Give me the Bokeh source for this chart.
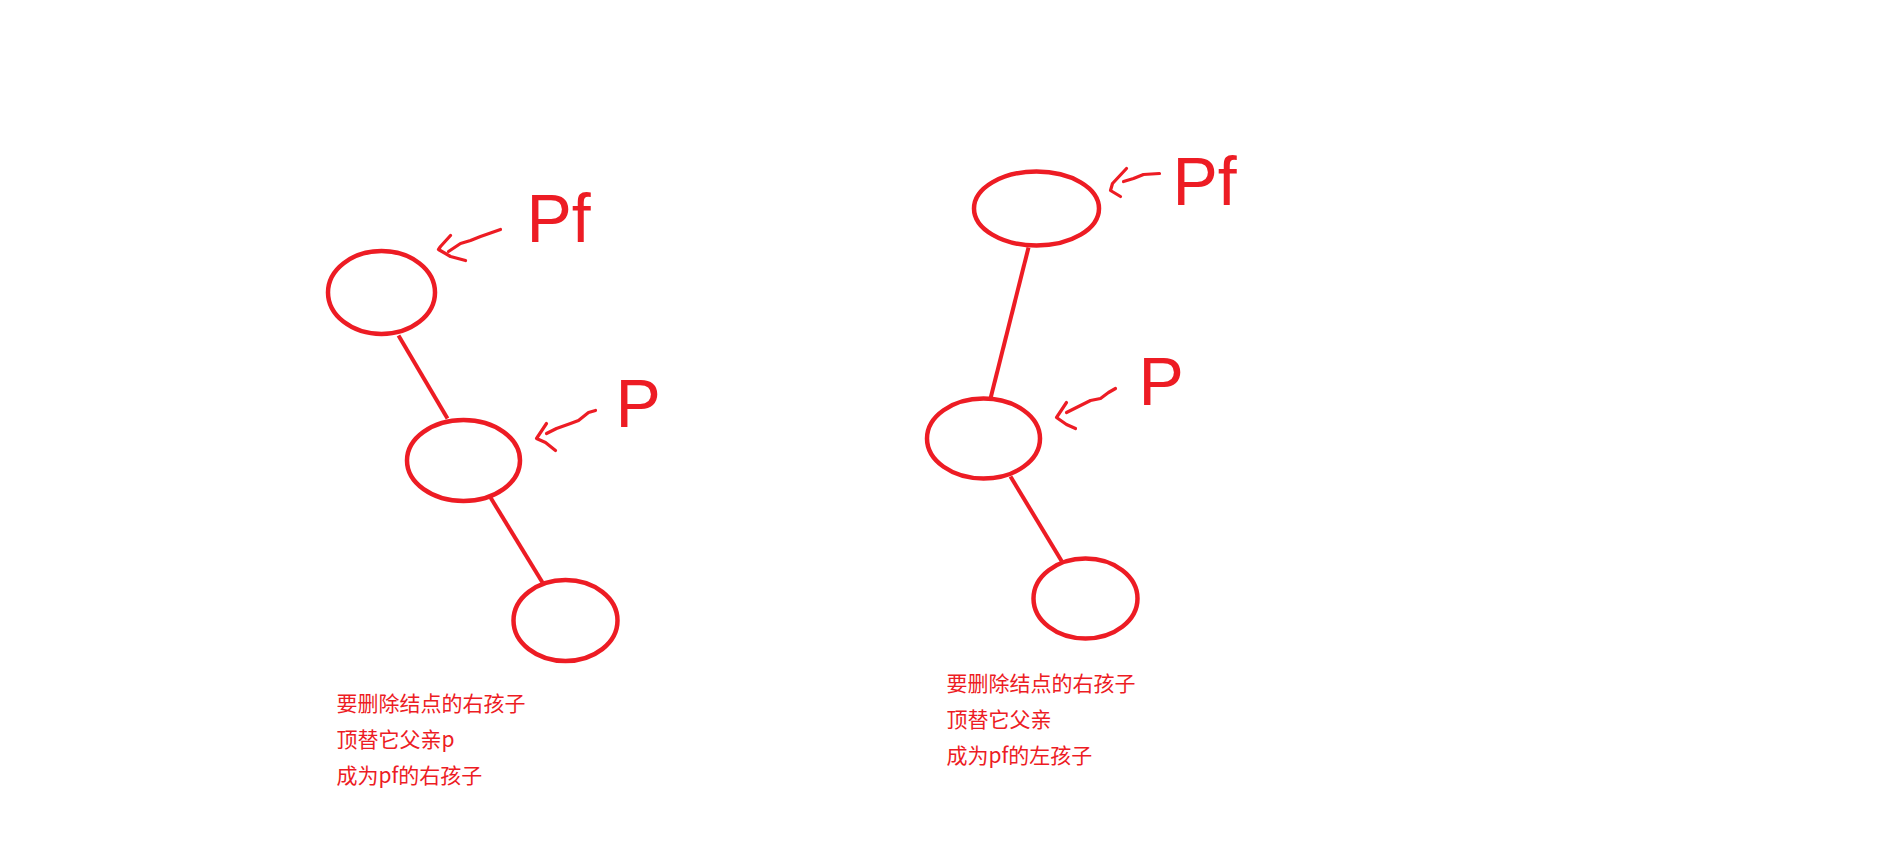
from bokeh.plotting import figure
from bokeh.models import Range1d
from bokeh.core.properties import value
from bokeh.embed import file_html
from bokeh.resources import INLINE

RED = '#ED1C24'

# nodes (page pixels): centre x, centre y, width, height
node_x = [381, 463, 565, 1036, 983, 1085]
node_y = [292, 460, 620, 208, 438, 598]
node_w = [107, 113, 104, 125, 113, 104]
node_h = [83, 81, 81, 74, 80, 80]

# tree edges
edge_x0 = [398, 490, 1028, 1010]
edge_y0 = [335, 497, 247, 476]
edge_x1 = [447, 542, 990, 1062]
edge_y1 = [418, 582, 398, 562]

# hand drawn arrows: shaft then head
arrow_xs = [
    [500, 480, 470, 460, 448], [450, 440, 438, 450, 465],
    [595, 588, 578, 570, 556, 546], [546, 536, 545, 555],
    [1159, 1143, 1133, 1123], [1126, 1112, 1110, 1120],
    [1115, 1108, 1100, 1090, 1080, 1066], [1066, 1056, 1066, 1075],
]
arrow_ys = [
    [229, 236, 240, 243, 251], [235, 246, 249, 256, 260],
    [410, 412, 420, 423, 428, 433], [423, 438, 442, 450],
    [173, 174, 178, 181], [168, 183, 190, 196],
    [388, 392, 398, 400, 405, 412], [402, 417, 424, 428],
]

# pointer labels
label_text = ['Pf', 'P', 'Pf', 'P']
label_x = [526, 615, 1172, 1138]
label_y = [217, 402, 180, 380]

# notes under each tree
note_left = ['要删除结点的右孩子', '顶替它父亲p', '成为pf的右孩子']
note_right = ['要删除结点的右孩子', '顶替它父亲', '成为pf的左孩子']
note_left_y = [701, 737, 773]
note_right_y = [681, 717, 753]

p = figure(width=1886, height=826,
           x_range=Range1d(0, 1886), y_range=Range1d(826, 0),
           output_backend='svg', toolbar_location=None,
           min_border=0)
p.axis.visible = False
p.grid.visible = False
p.outline_line_color = None
p.background_fill_color = 'white'
p.border_fill_color = 'white'

p.segment(edge_x0, edge_y0, edge_x1, edge_y1, line_color=RED, line_width=4)
p.ellipse(node_x, node_y, width=node_w, height=node_h,
          fill_color='white', line_color=RED, line_width=4.5)
p.multi_line(arrow_xs, arrow_ys, line_color=RED, line_width=3.2,
             line_join='round', line_cap='round')

p.text(label_x, label_y, text=label_text,
       text_font=value('Liberation Sans'), text_font_size='68px',
       text_color=RED, text_baseline='alphabetic', text_align='left')

p.text([336] * 3, note_left_y, text=note_left,
       text_font=value('Noto Sans CJK SC'), text_font_size='21px',
       text_color=RED, text_baseline='middle', text_align='left')
p.text([946] * 3, note_right_y, text=note_right,
       text_font=value('Noto Sans CJK SC'), text_font_size='21px',
       text_color=RED, text_baseline='middle', text_align='left')

open('out.html', 'w').write(file_html(p, INLINE))
